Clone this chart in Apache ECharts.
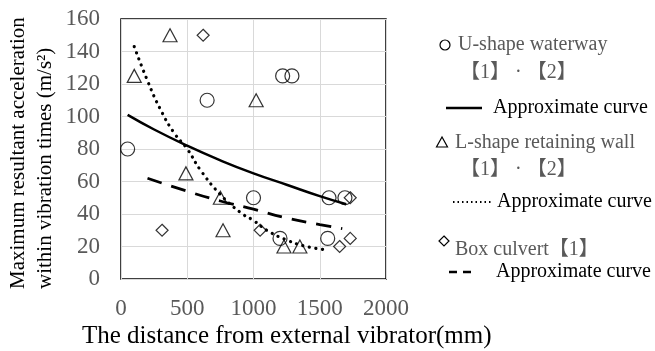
<!DOCTYPE html>
<html>
<head>
<meta charset="utf-8">
<script src="https://cdn.jsdelivr.net/npm/echarts@6/dist/echarts.min.js"></script>
<style>
  html, body { margin: 0; padding: 0; background: #fff; }
  #chart { width: 655px; height: 351px; }
</style>
</head>
<body>
<div id="chart"></div>
<script>
// measured points, [distance mm, acceleration m/s2]
var uShapePts = [[50, 80], [650, 110], [1220, 125], [1290, 125], [1000, 50], [1200, 25], [1570, 50], [1690, 50], [1560, 25]];
var lShapePts = [[100, 125], [370, 150], [490, 65], [750, 50], [770, 30], [1020, 110], [1230, 20], [1350, 20]];
var boxPts = [[310, 30], [620, 150], [1050, 30], [1650, 20], [1730, 50], [1730, 25]];

// approximate curves
var uCurve = [[50, 101], [250, 92], [500, 82], [750, 73], [1000, 65], [1250, 58], [1500, 51], [1700, 46]];
var lCurve = [[100, 143], [200, 122], [300, 104], [400, 90], [500, 80], [600, 67], [750, 52], [900, 41], [1000, 36], [1100, 30], [1250, 24], [1400, 20], [1550, 18]];
var boxCurve = [[200, 62], [500, 54], [750, 48], [1000, 43], [1250, 37.5], [1500, 33.5], [1670, 31]];

var xTicks = [0, 500, 1000, 1500, 2000];
var yTicks = [0, 20, 40, 60, 80, 100, 120, 140, 160];

var serif = '"Liberation Serif", "Times New Roman", "Noto Sans CJK SC", serif';
var grey = '#595959';

var chart = echarts.init(document.getElementById('chart'));

function legText(x, y, s, col) {
    return {
        type: 'text', x: x, y: y,
        style: { text: s, fill: col, font: '20px ' + serif, textAlign: 'left', textVerticalAlign: 'middle' }
    };
}

var option = {
    animation: false,
    grid: { left: 121, top: 19, right: 269, bottom: 72, show: true, borderColor: '#000', borderWidth: 1.5 },
    xAxis: {
        type: 'value', min: xTicks[0], max: xTicks[xTicks.length - 1], interval: 500,
        axisLine: { show: false }, axisTick: { show: false },
        splitLine: { lineStyle: { color: '#d9d9d9', width: 1 } },
        axisLabel: { color: grey, fontFamily: serif, fontSize: 23, margin: 18, formatter: function(v) { return String(v); } }
    },
    yAxis: {
        type: 'value', min: yTicks[0], max: yTicks[yTicks.length - 1], interval: 20,
        axisLine: { show: false }, axisTick: { show: false },
        splitLine: { lineStyle: { color: '#d9d9d9', width: 1 } },
        axisLabel: { color: grey, fontFamily: serif, fontSize: 23, margin: 21, formatter: function(v) { return String(v); } }
    },
    series: [
        { type: 'line', data: uCurve, smooth: true, showSymbol: false, lineStyle: { color: '#000', width: 2.5 } },
        { type: 'line', data: lCurve, smooth: true, showSymbol: false, lineStyle: { color: '#000', width: 3.2, type: [0.1, 6.5], cap: 'round' } },
        { type: 'line', data: boxCurve, smooth: true, showSymbol: false, lineStyle: { color: '#000', width: 2.8, type: [15, 10] } },
        { type: 'scatter', data: uShapePts, symbol: 'circle', symbolSize: 14, itemStyle: { color: 'rgba(0,0,0,0)', borderColor: '#000', borderWidth: 1.2 } },
        { type: 'scatter', data: lShapePts, symbol: 'triangle', symbolSize: [14, 13], itemStyle: { color: 'rgba(0,0,0,0)', borderColor: '#000', borderWidth: 1.2 } },
        { type: 'scatter', data: boxPts, symbol: 'diamond', symbolSize: 12, itemStyle: { color: 'rgba(0,0,0,0)', borderColor: '#000', borderWidth: 1.2 } }
    ],
    graphic: [
        // axis titles
        {
            type: 'text', x: 18, y: 289, rotation: Math.PI / 2,
            style: { text: 'Maximum resultant acceleration', fill: '#000', font: '21px ' + serif, textAlign: 'left', textVerticalAlign: 'middle' }
        },
        {
            type: 'text', x: 45, y: 289, rotation: Math.PI / 2,
            style: { text: 'within vibration times (m/s\u00b2)', fill: '#000', font: '21px ' + serif, textAlign: 'left', textVerticalAlign: 'middle' }
        },
        {
            type: 'text', x: 82, y: 336,
            style: { text: 'The distance from external vibrator(mm)', fill: '#000', font: '25px ' + serif, textAlign: 'left', textVerticalAlign: 'middle' }
        },
        // legend
        { type: 'circle', shape: { cx: 445, cy: 45, r: 5 }, style: { fill: 'none', stroke: '#000', lineWidth: 1.2 } },
        legText(458, 45, 'U-shape waterway', grey),
        legText(460, 73, '\u30101\u3011 \u00b7 \u30102\u3011', grey),
        { type: 'line', shape: { x1: 446, y1: 108, x2: 482, y2: 108 }, style: { stroke: '#000', lineWidth: 2.5 } },
        legText(493, 108, 'Approximate curve', '#000'),
        { type: 'polygon', shape: { points: [[442, 137], [436.5, 147], [447.5, 147]] }, style: { fill: 'none', stroke: '#000', lineWidth: 1.2 } },
        legText(455, 143, 'L-shape retaining wall', grey),
        legText(460, 170, '\u30101\u3011 \u00b7 \u30102\u3011', grey),
        { type: 'line', shape: { x1: 453, y1: 202, x2: 491, y2: 202 }, style: { stroke: '#000', lineWidth: 2, lineDash: [1.5, 3] } },
        legText(497, 202, 'Approximate curve', '#000'),
        { type: 'polygon', shape: { points: [[444, 236], [449, 241], [444, 246], [439, 241]] }, style: { fill: 'none', stroke: '#000', lineWidth: 1.2 } },
        legText(455, 250, 'Box culvert\u30101\u3011', grey),
        { type: 'line', shape: { x1: 449, y1: 272, x2: 474, y2: 272 }, style: { stroke: '#000', lineWidth: 2.5, lineDash: [8, 6] } },
        legText(496, 272, 'Approximate curve', '#000')
    ]
};

chart.setOption(option);
</script>
</body>
</html>
